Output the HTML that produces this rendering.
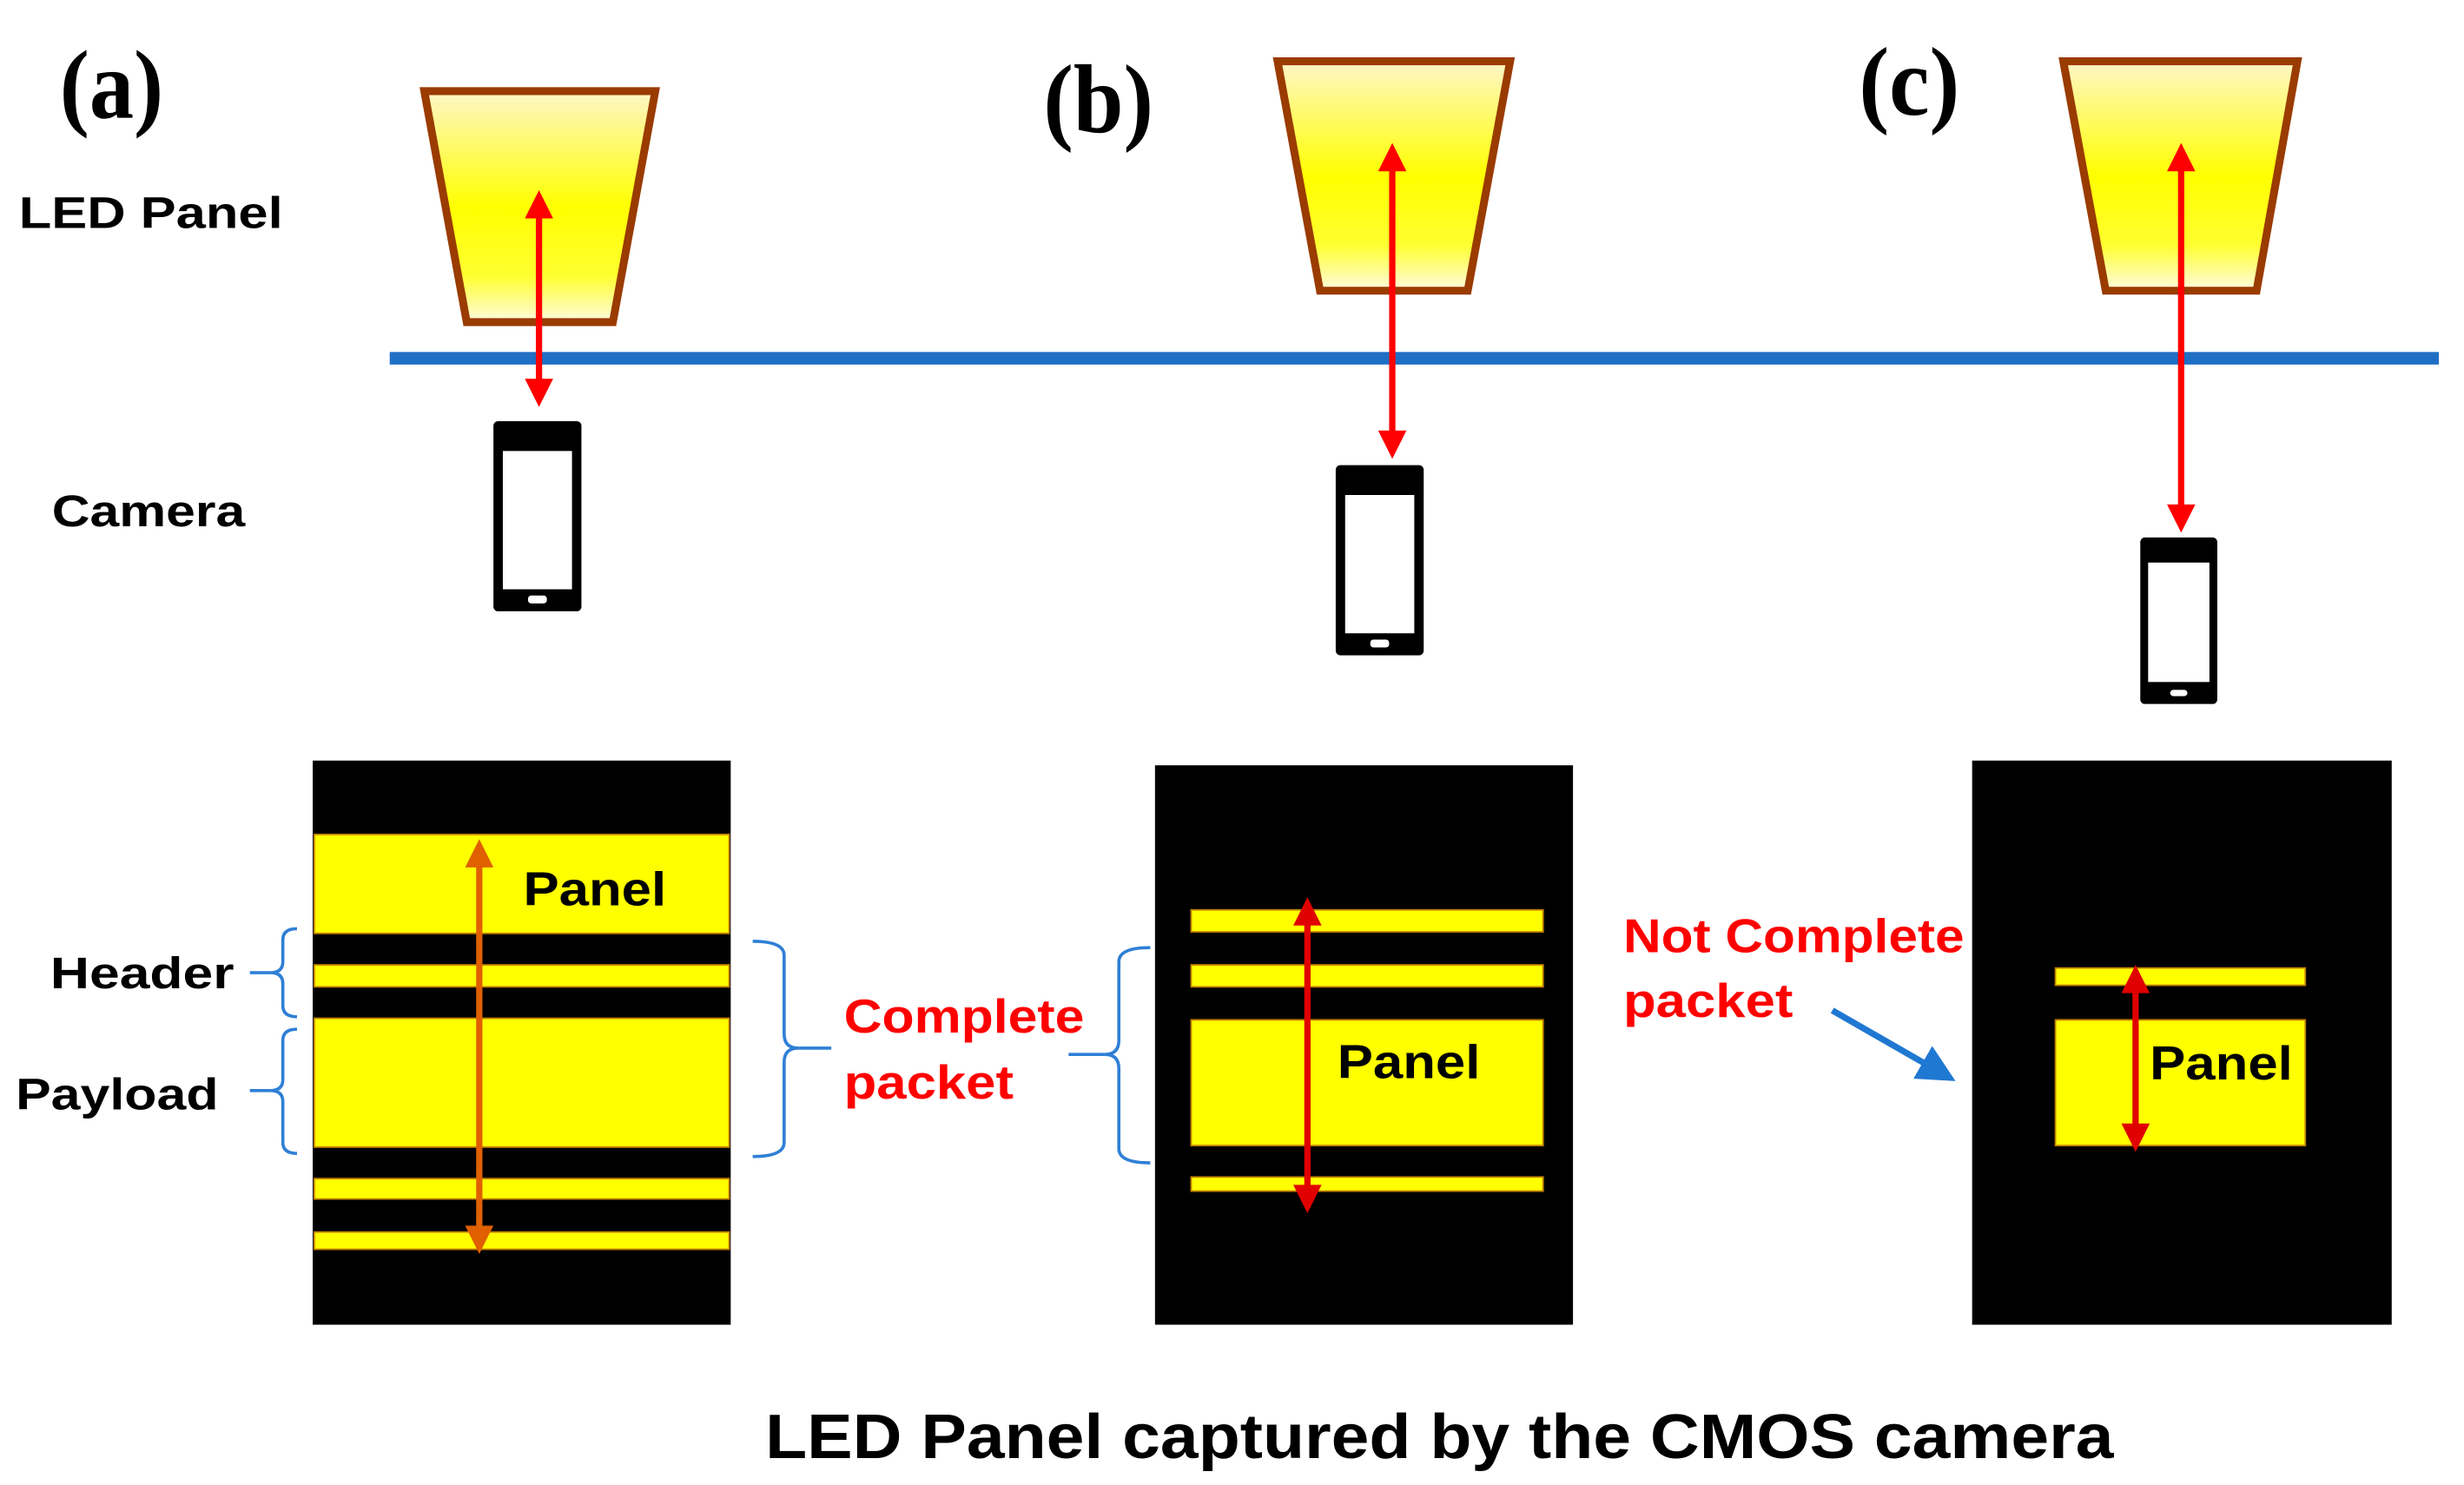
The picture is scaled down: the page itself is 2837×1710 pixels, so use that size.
<!DOCTYPE html>
<html><head><meta charset="utf-8"><style>html,body{margin:0;padding:0;background:#fff}svg{display:block}</style></head>
<body>
<svg width="2837" height="1710" viewBox="0 0 1568 945" preserveAspectRatio="none" xmlns="http://www.w3.org/2000/svg" font-family="Liberation Sans, Arial, sans-serif" font-weight="bold">
<defs>
<linearGradient id="g" x1="0" y1="0" x2="0" y2="1">
<stop offset="0" stop-color="#fff6c8"/><stop offset="0.5" stop-color="#ffff00"/><stop offset="0.8" stop-color="#ffff30"/><stop offset="1" stop-color="#fffbe0"/>
</linearGradient>
<marker id="r" viewBox="0 0 10 10" refX="5" refY="5" markerWidth="5" markerHeight="4.5" orient="auto-start-reverse"><path d="M0,0 L10,5 L0,10 z" fill="#ff0000"/></marker>
<marker id="r2" viewBox="0 0 10 10" refX="5" refY="5" markerWidth="5" markerHeight="4.5" orient="auto-start-reverse"><path d="M0,0 L10,5 L0,10 z" fill="#e00000"/></marker>
<marker id="o" viewBox="0 0 10 10" refX="5" refY="5" markerWidth="5" markerHeight="4.5" orient="auto-start-reverse"><path d="M0,0 L10,5 L0,10 z" fill="#e06000"/></marker>
<marker id="b" viewBox="0 0 10 10" refX="5" refY="5" markerWidth="6" markerHeight="6" orient="auto"><path d="M0,0 L10,5 L0,10 z" fill="#1f78d1"/></marker>
</defs>
<g font-family="Liberation Serif, serif" font-size="62">
<text x="38" y="75" textLength="66" lengthAdjust="spacingAndGlyphs">(a)</text>
<text x="664" y="84" textLength="70" lengthAdjust="spacingAndGlyphs">(b)</text>
<text x="1183" y="73" textLength="64" lengthAdjust="spacingAndGlyphs">(c)</text>
</g>
<text x="12" y="145" font-size="28" textLength="168" lengthAdjust="spacingAndGlyphs">LED Panel</text>
<text x="33" y="335" font-size="28" textLength="123" lengthAdjust="spacingAndGlyphs">Camera</text>
<g stroke="#9a3b00" stroke-width="5" fill="url(#g)">
<polygon points="270,58 417,58 390,205 297,205"/>
<polygon points="813,39 961,39 934,185 840,185"/>
<polygon points="1313,39 1462,39 1436,185 1340,185"/>
</g>
<rect x="248" y="224" width="1304" height="8" fill="#1f6fc5"/>
<g stroke="#ff0000" stroke-width="4">
<line x1="343" y1="130" x2="343" y2="250" marker-start="url(#r)" marker-end="url(#r)"/>
<line x1="886" y1="100" x2="886" y2="283" marker-start="url(#r)" marker-end="url(#r)"/>
<line x1="1388" y1="100" x2="1388" y2="330" marker-start="url(#r)" marker-end="url(#r)"/>
</g>
<g fill="#000">
<rect x="314" y="268" width="56" height="121" rx="3"/><rect x="850" y="296" width="56" height="121" rx="3"/><rect x="1362" y="342" width="49" height="106" rx="3"/>
</g>
<g fill="#fff">
<rect x="320" y="287" width="44" height="88"/><rect x="856" y="315" width="44" height="88"/><rect x="1367" y="358" width="39" height="76"/>
<rect x="336" y="379" width="12" height="5" rx="2"/><rect x="872" y="407" width="12" height="5" rx="2"/><rect x="1381" y="439" width="11" height="4" rx="2"/>
</g>
<rect x="199" y="484" width="266" height="359" fill="#000"/>
<rect x="735" y="487" width="266" height="356" fill="#000"/>
<rect x="1255" y="484" width="267" height="359" fill="#000"/>
<g fill="#ffff00" stroke="#c08000" stroke-width="1">
<rect x="200" y="531" width="264" height="63"/><rect x="200" y="614" width="264" height="14"/><rect x="200" y="648" width="264" height="82"/><rect x="200" y="750" width="264" height="13"/><rect x="200" y="784" width="264" height="11"/>
<rect x="758" y="579" width="224" height="14"/><rect x="758" y="614" width="224" height="14"/><rect x="758" y="649" width="224" height="80"/><rect x="758" y="749" width="224" height="9"/>
<rect x="1308" y="616" width="159" height="11"/><rect x="1308" y="649" width="159" height="80"/>
</g>
<line x1="305" y1="543" x2="305" y2="789" stroke="#e06000" stroke-width="4" marker-start="url(#o)" marker-end="url(#o)"/>
<line x1="832" y1="580" x2="832" y2="763" stroke="#e00000" stroke-width="4" marker-start="url(#r2)" marker-end="url(#r2)"/>
<line x1="1359" y1="623" x2="1359" y2="724" stroke="#e00000" stroke-width="4" marker-start="url(#r2)" marker-end="url(#r2)"/>
<g font-size="30" fill="#000">
<text x="333" y="576" textLength="91" lengthAdjust="spacingAndGlyphs">Panel</text>
<text x="851" y="686" textLength="91" lengthAdjust="spacingAndGlyphs">Panel</text>
<text x="1368" y="687" textLength="91" lengthAdjust="spacingAndGlyphs">Panel</text>
<text x="32" y="629" font-size="28" textLength="117" lengthAdjust="spacingAndGlyphs">Header</text>
<text x="10" y="706" font-size="28" textLength="129" lengthAdjust="spacingAndGlyphs">Payload</text>
</g>
<g fill="#ff0000" font-size="30">
<text x="537" y="657" textLength="153" lengthAdjust="spacingAndGlyphs">Complete</text>
<text x="537" y="699" textLength="108" lengthAdjust="spacingAndGlyphs">packet</text>
<text x="1033" y="606" textLength="217" lengthAdjust="spacingAndGlyphs">Not Complete</text>
<text x="1033" y="647" textLength="108" lengthAdjust="spacingAndGlyphs">packet</text>
</g>
<g fill="none" stroke="#2f7fd6" stroke-width="2">
<path d="M189,591 Q180,591 180,598 L180,612 Q180,619 172,619 Q180,619 180,626 L180,640 Q180,647 189,647"/>
<line x1="159" y1="619" x2="172" y2="619"/>
<path d="M189,655 Q180,655 180,662 L180,687 Q180,694 172,694 Q180,694 180,701 L180,727 Q180,734 189,734"/>
<line x1="159" y1="694" x2="172" y2="694"/>
<path d="M479,599 Q499,599 499,608 L499,658 Q499,667 508,667 Q499,667 499,676 L499,727 Q499,736 479,736"/>
<line x1="508" y1="667" x2="529" y2="667"/>
<path d="M732,603 Q712,603 712,612 L712,662 Q712,671 703,671 Q712,671 712,680 L712,731 Q712,740 732,740"/>
<line x1="680" y1="671" x2="703" y2="671"/>
</g>
<line x1="1166" y1="643" x2="1234" y2="682" stroke="#1f78d1" stroke-width="4" marker-end="url(#b)"/>
<text x="487" y="928" font-size="40" textLength="858" lengthAdjust="spacingAndGlyphs">LED Panel captured by the CMOS camera</text>
</svg>
</body></html>
